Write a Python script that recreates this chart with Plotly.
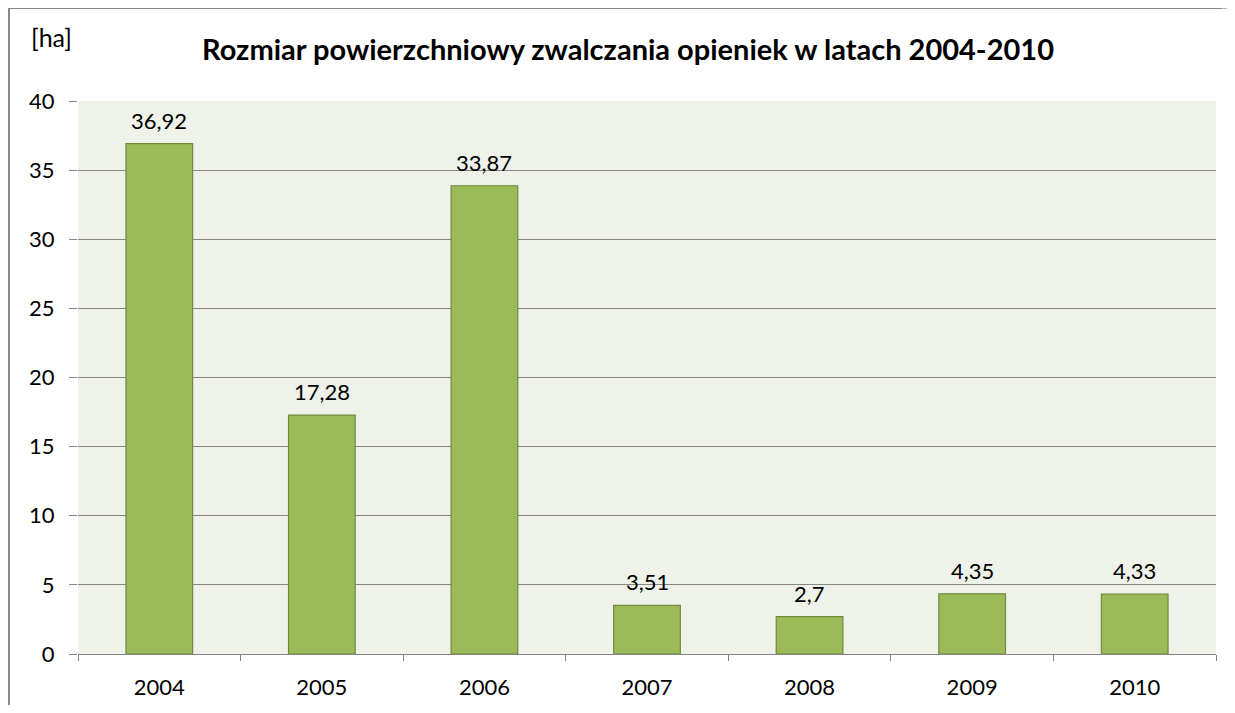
import plotly.graph_objects as go

years = ["2004", "2005", "2006", "2007", "2008", "2009", "2010"]
values = [36.92, 17.28, 33.87, 3.51, 2.7, 4.35, 4.33]
labels = ["36,92", "17,28", "33,87", "3,51", "2,7", "4,35", "4,33"]
y_ticks = [0, 5, 10, 15, 20, 25, 30, 35, 40]

FONT = "Lato, 'Open Sans', sans-serif"

# page has an 8px body margin; figure coordinates below are page coords - 8
OFF = 8
W, H = 1235 - 2 * OFF, 713 - 2 * OFF
L, R, T, B = 78 - OFF, W - (1216 - OFF), 101 - OFF, H - (654 - OFF)
pw = W - L - R
ph = H - T - B


def px_x(p):  # page pixel -> paper x
    return (p - OFF - L) / pw


def px_y(p):  # page pixel -> paper y
    return (H - B - (p - OFF)) / ph


fig = go.Figure()
fig.add_trace(go.Bar(
    x=years, y=values,
    marker=dict(color="#9BBB59", line=dict(color="#71893F", width=1.2)),
    width=0.41, hoverinfo="skip",
))

value_labels = [
    dict(text=lab, x=i, y=val, xref="x", yref="y", xanchor="center",
         yanchor="bottom", yshift=8, showarrow=False,
         font=dict(family=FONT, size=22, color="#000000"))
    for i, (val, lab) in enumerate(zip(values, labels))
]

fig.update_layout(
    width=W, height=H,
    margin=dict(l=L, r=R, t=T, b=B, pad=0, autoexpand=False),
    paper_bgcolor="white",
    plot_bgcolor="#EFF2E8",
    showlegend=False,
    font=dict(family=FONT, size=22, color="#000000"),
    title=dict(
        text="<b>Rozmiar powierzchniowy zwalczania opieniek w latach 2004-2010</b>",
        x=px_x(628), xanchor="center", xref="paper",
        y=1 - (50 - OFF) / H, yanchor="middle",
        font=dict(family=FONT, size=29, color="#000000"),
    ),
    xaxis=dict(
        type="category", categoryorder="array", categoryarray=years,
        automargin=False,
        showgrid=False, showline=True, linecolor="#868686", linewidth=1,
        ticks="outside", tickson="boundaries", ticklen=6, tickcolor="#868686",
        ticklabelstandoff=14,
        tickfont=dict(family=FONT, size=22), fixedrange=True,
    ),
    yaxis=dict(
        range=[0, 40], tickvals=y_ticks, automargin=False,
        showgrid=True, gridcolor="#868686", gridwidth=1,
        showline=False, ticks="outside", ticklen=8, tickcolor="#868686",
        ticklabelstandoff=10,
        tickfont=dict(family=FONT, size=22), zeroline=False, fixedrange=True,
    ),
    annotations=value_labels + [dict(
        text="[ha]", xref="paper", yref="paper", x=px_x(29), y=px_y(37),
        xanchor="left", yanchor="middle", showarrow=False,
        font=dict(family=FONT, size=25, color="#000000"),
    )],
    shapes=[
        dict(type="line", xref="paper", yref="paper", x0=px_x(9), x1=px_x(9),
             y0=px_y(7), y1=px_y(713), line=dict(color="#888888", width=2)),
        dict(type="line", xref="paper", yref="paper", x0=px_x(8), x1=px_x(1222),
             y0=px_y(8), y1=px_y(8), line=dict(color="#888888", width=2)),
        dict(type="line", xref="paper", yref="paper", x0=px_x(1222), x1=px_x(1227),
             y0=px_y(8), y1=px_y(8), line=dict(color="#BBBBBB", width=2)),
    ],
)

fig.write_html("out.html")
